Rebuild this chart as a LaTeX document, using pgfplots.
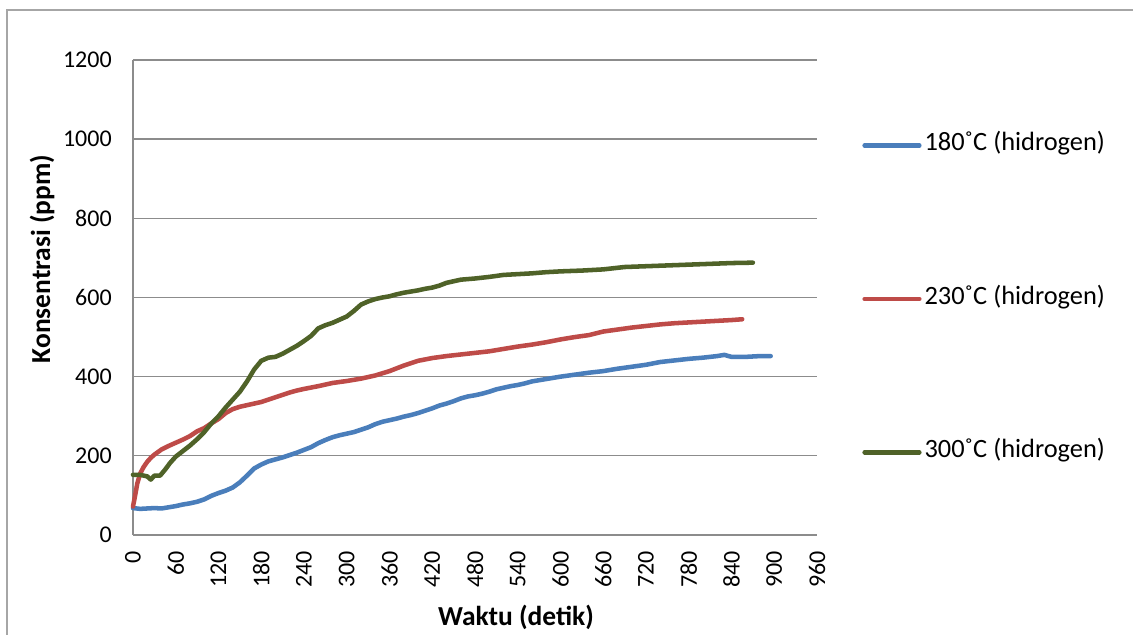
\documentclass[border=0pt]{standalone}
\usepackage{pgfplots}
\pgfplotsset{compat=1.18}
\usepackage{fontspec}
\setmainfont{Carlito}

\definecolor{gridgray}{HTML}{8C8C8C}
\definecolor{framegray}{HTML}{A6A6A6}
\definecolor{c180}{HTML}{4A7EBB}
\definecolor{c230}{HTML}{BE4B48}
\definecolor{c300}{HTML}{4F6228}

\newcommand{\tickfont}{\fontsize{18}{21}\selectfont}
\newcommand{\legfont}{\fontsize{19.8}{23}\selectfont}
\newcommand{\titlefont}{\fontsize{20.6}{24}\selectfont\bfseries}

\begin{document}
\begin{tikzpicture}
% page area and chart frame
\useasboundingbox (0pt,0pt) rectangle (849.75pt,476.25pt);
\fill[white] (0pt,0pt) rectangle (849.75pt,476.25pt);
\draw[framegray, line width=1pt] (5.25pt,-10pt) -- (5.25pt,468.75pt) -- (870pt,468.75pt);

\begin{axis}[
  at={(99.75pt,75pt)}, anchor=south west,
  scale only axis, width=513pt, height=356.25pt,
  xmin=0, xmax=960, ymin=0, ymax=1200,
  xtick={0,60,...,960}, ytick={0,200,...,1200},
  axis x line=bottom, axis y line=left,
  axis line style={gridgray, line width=1pt, -},
  ymajorgrids, grid style={gridgray, line width=1pt},
  major tick length=0pt,
  /pgf/number format/assume math mode=true,
  /pgf/number format/1000 sep={},
  tick label style={font=\tickfont, inner sep=0pt},
  xticklabel style={rotate=90, anchor=east},
  xticklabel shift=12pt,
  yticklabel shift=15.75pt,
  xlabel={Waktu (detik)}, ylabel={Konsentrasi (ppm)},
  label style={font=\titlefont},
  xlabel style={at={(rel axis cs:0.56,-0.1726)}, anchor=center},
  ylabel style={at={(rel axis cs:-0.133,0.581)}, anchor=center},
  legend style={draw=none, fill=none, font=\legfont,
    at={(rel axis cs:1.066,0.497)}, anchor=west,
    inner sep=0pt, row sep=99pt, column sep=2.25pt,
    nodes={inner sep=0pt, text height=12pt, text depth=4pt}},
  legend cell align=left,
  legend image code/.code={\draw[#1, line cap=round] (0pt,0pt) -- (41pt,0pt);},
  every axis plot/.append style={line width=3.4pt, line join=round, line cap=round},
  clip=false,
]
\addplot[c180] coordinates {
(0,68) (10,66) (20,67) (30,68) (40,67) (50,70) (60,73) (70,77) (80,80) (90,84)
(100,90) (110,99) (120,106) (130,112) (140,120) (150,133) (160,150) (170,168)
(180,178) (190,186) (200,191) (210,196) (220,202) (230,208) (240,215) (250,222)
(260,232) (270,240) (280,247) (290,252) (300,256) (310,260) (320,266) (330,272)
(340,280) (350,286) (360,290) (370,294) (380,299) (390,303) (400,308) (410,314)
(420,320) (430,327) (440,332) (450,338) (460,345) (470,350) (480,353) (490,357)
(500,362) (510,368) (520,372) (530,376) (540,379) (550,383) (560,388) (570,391)
(580,394) (590,397) (600,400) (620,405) (640,410) (660,414) (680,420) (700,425)
(720,430) (740,437) (760,441) (780,445) (800,448) (820,452) (830,455) (840,450)
(860,450) (880,452) (895,452)
};
\addlegendentry{180˚C (hidrogen)}
\addplot[c230] coordinates {
(0,72) (3,100) (6,130) (10,155) (15,172) (20,185) (25,195) (30,203) (40,216)
(50,225) (60,233) (70,241) (80,250) (90,262) (100,270) (110,282) (120,293)
(130,308) (140,318) (150,324) (160,328) (170,332) (180,336) (190,342) (200,348)
(210,354) (220,360) (230,365) (240,369) (260,376) (280,384) (300,389) (320,395)
(340,403) (360,414) (380,428) (400,440) (420,447) (440,452) (460,456) (480,460)
(500,464) (520,470) (540,476) (560,481) (580,487) (600,494) (620,500) (640,505)
(660,514) (680,519) (700,524) (720,528) (740,532) (760,535) (780,537) (800,539)
(820,541) (840,543) (855,545)
};
\addlegendentry{230˚C (hidrogen)}
\addplot[c300] coordinates {
(0,152) (10,152) (20,148) (25,140) (30,150) (38,150) (45,165) (52,182) (60,198)
(70,212) (80,226) (90,242) (100,260) (110,282) (120,300) (130,322) (140,342)
(150,362) (160,388) (170,418) (180,440) (190,448) (200,450) (210,458) (220,468)
(230,478) (240,490) (250,503) (260,522) (270,530) (280,536) (290,544) (300,552)
(310,566) (320,582) (330,590) (340,596) (350,600) (360,603) (370,608) (380,612)
(390,615) (400,618) (410,622) (420,625) (430,630) (440,637) (450,641) (460,645)
(480,648) (500,652) (520,657) (540,659) (560,661) (580,664) (600,666) (630,668)
(660,671) (690,677) (720,679) (750,681) (780,683) (810,685) (840,687) (870,688)
};
\addlegendentry{300˚C (hidrogen)}
\end{axis}
\end{tikzpicture}
\end{document}
